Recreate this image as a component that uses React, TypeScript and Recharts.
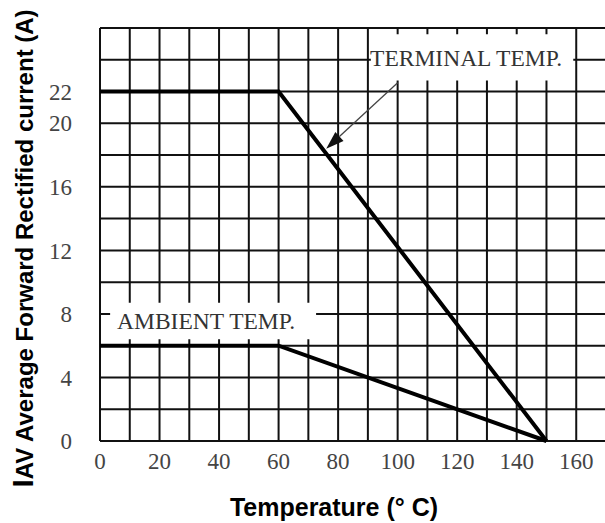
import { CartesianGrid, Label, Line, LineChart, ReferenceArea, ReferenceLine, XAxis, YAxis } from 'recharts';

const temps = [0, 60, 150];
const terminalAmps = [22, 22, 0];
const ambientAmps = [6, 6, 0];

const xTicks = [0, 10, 20, 30, 40, 50, 60, 70, 80, 90, 100, 110, 120, 130, 140, 150, 160, 170];
const xLabels = [0, 20, 40, 60, 80, 100, 120, 140, 160];
const yTicks = [0, 2, 4, 6, 8, 10, 12, 14, 16, 18, 20, 22, 24, 26];
const yLabels = [0, 4, 8, 12, 16, 20, 22];

const data = temps.map((t, i) => ({ t, terminal: terminalAmps[i], ambient: ambientAmps[i] }));

const serif = '"Liberation Serif", "DejaVu Serif", serif';
const sans = '"Liberation Sans", Arial, sans-serif';

function Arrow(props: any) {
  const { x1, y1, x2, y2 } = props;
  const ang = Math.atan2(y2 - y1, x2 - x1);
  const len = 18;
  const half = 6;
  const bx = x2 - len * Math.cos(ang);
  const by = y2 - len * Math.sin(ang);
  const px = -Math.sin(ang) * half;
  const py = Math.cos(ang) * half;
  return (
    <g>
      <line x1={x1} y1={y1} x2={bx} y2={by} stroke="#444" strokeWidth={1.3} />
      <polygon points={`${x2},${y2} ${bx + px},${by + py} ${bx - px},${by - py}`} fill="#111" />
    </g>
  );
}

function YTitle(props: any) {
  const vb = props.viewBox;
  const cx = 33;
  const cy = vb.y + vb.height / 2 + 14;
  return (
    <text
      x={cx}
      y={cy}
      textAnchor="middle"
      transform={`rotate(-90, ${cx}, ${cy})`}
      fontFamily={sans}
      fontWeight="bold"
      fontSize={24}
      fill="#000"
    >
      <tspan fontSize={30}>I</tspan>AV Average Forward Rectified current (A)
    </text>
  );
}

export default function App() {
  return (
    <div style={{ position: 'absolute', left: 0, top: 0, width: 605, height: 523, overflow: 'hidden', background: '#fff' }}>
      <LineChart width={610} height={523} data={data} margin={{ top: 28, right: 4, bottom: 52, left: 0 }}>
        <CartesianGrid stroke="#111" strokeWidth={2} />
        <XAxis
          dataKey="t"
          type="number"
          domain={[0, 170]}
          ticks={xTicks}
          interval={0}
          axisLine={false}
          tickLine={false}
          tickMargin={6}
          height={30}
          tick={{ fontSize: 23, fill: '#444', fontFamily: serif }}
          tickFormatter={(v: number) => (xLabels.includes(v) ? String(v) : '')}
        >
          <Label
            value="Temperature (° C)"
            position="bottom"
            offset={27}
            dx={-19}
            style={{ fontSize: 25, fontWeight: 'bold', fontFamily: sans, fill: '#000' }}
          />
        </XAxis>
        <YAxis
          type="number"
          domain={[0, 26]}
          ticks={yTicks}
          interval={0}
          width={100}
          axisLine={false}
          tickLine={false}
          tickMargin={22}
          tick={{ fontSize: 23, fill: '#444', fontFamily: serif }}
          tickFormatter={(v: number) => (yLabels.includes(v) ? String(v) : '')}
        >
          <Label content={YTitle} />
        </YAxis>
        <ReferenceArea
          x1={91}
          x2={159}
          y1={22.7}
          y2={25.6}
          fill="#fff"
          fillOpacity={1}
          stroke="none"
          label={{ value: 'TERMINAL TEMP.', position: 'center', dx: -6, fill: '#333', fontSize: 23.5, fontFamily: serif }}
        />
        <ReferenceArea
          x1={3.4}
          x2={72.6}
          y1={6.4}
          y2={8.7}
          fill="#fff"
          fillOpacity={1}
          stroke="none"
          label={{ value: 'AMBIENT TEMP.', position: 'center', dx: -7, fill: '#333', fontSize: 23.5, fontFamily: serif }}
        />
        <ReferenceLine segment={[{ x: 100, y: 22.55 }, { x: 76, y: 18.4 }]} shape={Arrow} />
        <Line type="linear" dataKey="terminal" stroke="#000" strokeWidth={4} dot={false} isAnimationActive={false} />
        <Line type="linear" dataKey="ambient" stroke="#000" strokeWidth={4} dot={false} isAnimationActive={false} />
      </LineChart>
    </div>
  );
}
